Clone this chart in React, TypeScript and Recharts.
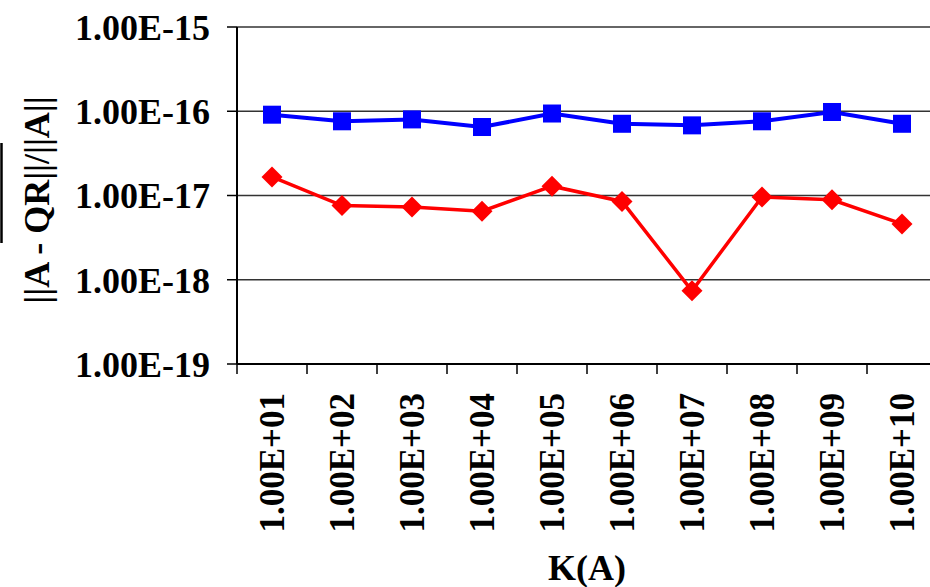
import React from 'react';
import { LineChart, Line, XAxis, YAxis, CartesianGrid } from 'recharts';

// condition numbers K(A) along the x axis
const categories = [
  '1.00E+01', '1.00E+02', '1.00E+03', '1.00E+04', '1.00E+05',
  '1.00E+06', '1.00E+07', '1.00E+08', '1.00E+09', '1.00E+10',
];

// relative residual ||A - QR|| / ||A|| for the two methods
const blueResidual = [9.1e-17, 7.6e-17, 8.0e-17, 6.5e-17, 9.4e-17, 7.1e-17, 6.8e-17, 7.6e-17, 9.8e-17, 7.1e-17];
const redResidual = [1.66e-17, 7.6e-18, 7.3e-18, 6.5e-18, 1.29e-17, 8.5e-18, 7.4e-19, 9.6e-18, 8.9e-18, 4.6e-18];

const yTicks = [1e-19, 1e-18, 1e-17, 1e-16, 1e-15];
const yTickLabels = ['1.00E-19', '1.00E-18', '1.00E-17', '1.00E-16', '1.00E-15'];

const FONT = '"Liberation Serif", "Times New Roman", serif';
const CHART_W = 950;
const CHART_H = 587;
const PLOT_LEFT = 237;
const MARGIN_RIGHT = 13;

const data = categories.map((k, i) => ({
  k,
  blue: blueResidual[i],
  red: redResidual[i],
}));

const formatY = (v: number) => {
  // pick the label whose tick is closest on a log scale
  let best = 0;
  yTicks.forEach((t, i) => {
    if (Math.abs(Math.log10(t) - Math.log10(v)) < Math.abs(Math.log10(yTicks[best]) - Math.log10(v))) best = i;
  });
  return yTickLabels[best];
};

const XTick = (props: any) => {
  const { x, y, payload, index } = props;
  const half = payload?.offset ?? (CHART_W - PLOT_LEFT - MARGIN_RIGHT) / categories.length / 2;
  return (
    <g>
      <line x1={x - half} y1={y} x2={x - half} y2={y + 10} stroke="#000" strokeWidth={1.5} />
      {index === categories.length - 1 && (
        <line x1={x + half} y1={y} x2={x + half} y2={y + 10} stroke="#000" strokeWidth={1.5} />
      )}
      <text
        x={0}
        y={0}
        dy="0.35em"
        textAnchor="end"
        transform={`translate(${x},${y + 29}) rotate(-90)`}
        fill="#000"
        fontSize={35}
        fontWeight="bold"
        fontFamily={FONT}
      >
        {payload.value}
      </text>
    </g>
  );
};

const YTitle = () => (
  <g>
    <line x1={1.5} y1={143} x2={1.5} y2={243} stroke="#000" strokeWidth={2.5} />
    <text
      x={0}
      y={0}
      dy="0.35em"
      textAnchor="middle"
      transform="translate(36,200) rotate(-90)"
      fill="#000"
      fontSize={36}
      fontWeight="bold"
      fontFamily={FONT}
    >
      ||A - QR||/||A||
    </text>
  </g>
);

const XTitle = () => (
  <text x={587} y={580} textAnchor="middle" fill="#000" fontSize={36} fontWeight="bold" fontFamily={FONT}>
    K(A)
  </text>
);

const BlueSquare = (props: any) => {
  const { cx, cy, index } = props;
  return <rect key={`b${index}`} x={cx - 9} y={cy - 9} width={18} height={18} fill="#0000FF" />;
};

const RedDiamond = (props: any) => {
  const { cx, cy, index } = props;
  const r = 10.5;
  return (
    <polygon
      key={`r${index}`}
      points={`${cx},${cy - r} ${cx + r},${cy} ${cx},${cy + r} ${cx - r},${cy}`}
      fill="#FF0000"
    />
  );
};

export default function App() {
  return (
    <div
      style={{
        position: 'absolute',
        left: 0,
        top: 0,
        width: 930,
        height: 587,
        overflow: 'hidden',
        background: '#fff',
      }}
    >
      <LineChart
        width={CHART_W}
        height={CHART_H}
        data={data}
        margin={{ top: 27, right: MARGIN_RIGHT, bottom: 0, left: 0 }}
      >
        <CartesianGrid vertical={false} stroke="#333" strokeWidth={1.5} />
        <XAxis
          dataKey="k"
          scale="band"
          height={223}
          interval={0}
          tickLine={false}
          tickSize={0}
          tickMargin={0}
          tick={<XTick />}
          axisLine={{ stroke: '#000', strokeWidth: 2 }}
          label={<XTitle />}
        />
        <YAxis
          scale="log"
          domain={[1e-19, 1e-15]}
          ticks={yTicks}
          allowDataOverflow
          width={PLOT_LEFT}
          tickSize={10}
          tickMargin={17}
          tickFormatter={formatY}
          tickLine={{ stroke: '#000', strokeWidth: 1.5 }}
          axisLine={{ stroke: '#000', strokeWidth: 2 }}
          tick={{ fill: '#000', fontSize: 36, fontWeight: 'bold', fontFamily: FONT }}
          label={<YTitle />}
        />
        <Line
          dataKey="blue"
          stroke="#0000FF"
          strokeWidth={4}
          dot={BlueSquare}
          isAnimationActive={false}
        />
        <Line
          dataKey="red"
          stroke="#FF0000"
          strokeWidth={3.5}
          dot={RedDiamond}
          isAnimationActive={false}
        />
      </LineChart>
    </div>
  );
}
